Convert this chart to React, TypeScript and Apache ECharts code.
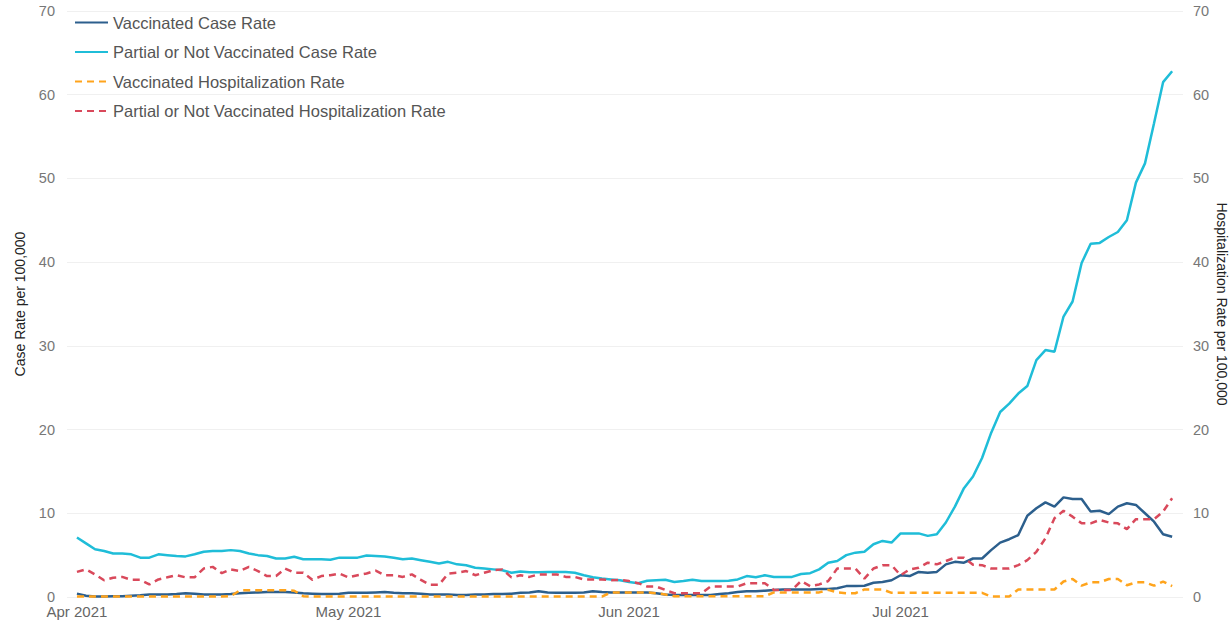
import React, { useEffect, useRef } from "react";
import * as echarts from "echarts";

// Daily values, Apr 1 2021 (index 0) .. Jul 31 2021 (index 121)
const tickDays = [0, 30, 61, 91];
const tickLabels = ["Apr 2021", "May 2021", "Jun 2021", "Jul 2021"];

const vaccinatedCase = [
  0.4, 0.15, 0.05, 0.05, 0.1, 0.1, 0.15, 0.2, 0.3, 0.3,
  0.3, 0.35, 0.45, 0.4, 0.3, 0.3, 0.3, 0.35, 0.45, 0.5,
  0.55, 0.6, 0.6, 0.6, 0.55, 0.45, 0.4, 0.35, 0.35, 0.4,
  0.5, 0.5, 0.5, 0.55, 0.6, 0.5, 0.45, 0.45, 0.4, 0.3,
  0.3, 0.3, 0.25, 0.25, 0.3, 0.3, 0.35, 0.35, 0.4, 0.5,
  0.55, 0.7, 0.55, 0.5, 0.5, 0.5, 0.55, 0.7, 0.6, 0.55,
  0.55, 0.55, 0.55, 0.55, 0.45, 0.3, 0.25, 0.25, 0.25, 0.25,
  0.25, 0.35, 0.45, 0.6, 0.7, 0.7, 0.75, 0.85, 0.9, 0.9,
  0.9, 0.9, 0.95, 0.95, 1.05, 1.3, 1.3, 1.35, 1.7, 1.8,
  2.0, 2.6, 2.5, 3.0, 2.9, 3.0, 3.9, 4.2, 4.1, 4.6,
  4.6, 5.6, 6.5, 6.9, 7.4, 9.7, 10.6, 11.3, 10.8, 11.9,
  11.7, 11.7, 10.2, 10.3, 9.9, 10.8, 11.2, 11.0, 10.0, 9.0,
  7.5, 7.2,
];

const unvaccinatedCase = [
  7.1, 6.4, 5.7, 5.5, 5.2, 5.2, 5.1, 4.7, 4.7, 5.1,
  5.0, 4.9, 4.85, 5.1, 5.4, 5.5, 5.5, 5.6, 5.5, 5.2,
  5.0, 4.9, 4.6, 4.6, 4.8, 4.5, 4.5, 4.5, 4.45, 4.7,
  4.7, 4.7, 4.95, 4.9, 4.85, 4.7, 4.5, 4.6, 4.4, 4.2,
  4.0, 4.2, 3.9, 3.8, 3.5, 3.4, 3.3, 3.2, 2.9, 3.05,
  2.95, 2.95, 3.0, 3.0, 3.0, 2.9, 2.6, 2.35, 2.2, 2.1,
  2.0, 1.8, 1.65, 1.95, 2.0, 2.05, 1.8, 1.9, 2.05, 1.9,
  1.9, 1.9, 1.95, 2.1, 2.5, 2.35, 2.6, 2.4, 2.4, 2.4,
  2.75, 2.85, 3.3, 4.1, 4.3, 5.0, 5.3, 5.4, 6.3, 6.7,
  6.5, 7.6, 7.6, 7.6, 7.3, 7.5, 8.9, 10.8, 13.0, 14.4,
  16.6, 19.6, 22.1, 23.1, 24.3, 25.2, 28.3, 29.5, 29.3, 33.5,
  35.3, 39.9, 42.2, 42.3, 43.0, 43.6, 45.0, 49.5, 51.8, 56.6,
  61.5, 62.8,
];

const vaccinatedHosp = [
  0.05, 0.05, 0.05, 0.05, 0.05, 0.05, 0.05, 0.05, 0.05, 0.05,
  0.05, 0.05, 0.05, 0.05, 0.05, 0.05, 0.05, 0.1, 0.8, 0.8,
  0.8, 0.8, 0.8, 0.8, 0.75, 0.1, 0.05, 0.05, 0.05, 0.05,
  0.05, 0.05, 0.05, 0.05, 0.05, 0.05, 0.05, 0.05, 0.05, 0.05,
  0.05, 0.05, 0.05, 0.05, 0.05, 0.05, 0.05, 0.05, 0.05, 0.05,
  0.05, 0.05, 0.05, 0.05, 0.05, 0.05, 0.05, 0.05, 0.05, 0.55,
  0.55, 0.55, 0.55, 0.55, 0.45, 0.3, 0.1, 0.1, 0.1, 0.1,
  0.1, 0.1, 0.1, 0.1, 0.1, 0.1, 0.1, 0.55, 0.55, 0.55,
  0.55, 0.55, 0.55, 0.85, 0.55, 0.45, 0.45, 0.9, 0.9, 0.9,
  0.5, 0.5, 0.5, 0.5, 0.5, 0.5, 0.5, 0.5, 0.5, 0.5,
  0.5, 0.05, 0.05, 0.05, 0.9, 0.9, 0.9, 0.9, 0.9, 1.85,
  2.15, 1.35, 1.75, 1.75, 2.15, 2.15, 1.4, 1.75, 1.75, 1.35,
  1.85, 1.3,
];

const unvaccinatedHosp = [
  3.0, 3.3, 2.7, 2.0, 2.3, 2.4, 2.05, 2.05, 1.5, 2.1,
  2.35, 2.6, 2.35, 2.35, 3.4, 3.6, 2.85, 3.3, 3.1, 3.6,
  3.1, 2.5, 2.5, 3.4, 2.9, 2.9, 2.05, 2.5, 2.6, 2.8,
  2.35, 2.6, 2.8, 3.15, 2.6, 2.6, 2.4, 2.7, 2.05, 1.45,
  1.45, 2.8, 2.9, 3.1, 2.6, 2.9, 3.2, 3.3, 2.35, 2.6,
  2.4, 2.7, 2.7, 2.7, 2.4, 2.4, 2.1, 2.1, 2.1, 2.0,
  2.05, 1.9, 1.65, 1.25, 1.25, 0.85, 0.45, 0.45, 0.45, 0.45,
  1.25, 1.25, 1.25, 1.25, 1.65, 1.65, 1.65, 0.85, 0.85, 0.85,
  1.9, 1.3, 1.5, 1.9, 3.4, 3.4, 3.4, 2.2, 3.4, 3.8,
  3.8, 2.6, 3.3, 3.5, 4.1, 3.9, 4.3, 4.7, 4.7, 3.85,
  3.8, 3.4, 3.4, 3.4, 3.8, 4.4, 5.4, 7.0, 9.4, 10.3,
  9.6, 8.8, 8.8, 9.2, 8.9, 8.8, 8.1, 9.3, 9.3, 9.3,
  10.2, 11.8,
];

const seriesNames = [
  "Vaccinated Case Rate",
  "Partial or Not Vaccinated Case Rate",
  "Vaccinated Hospitalization Rate",
  "Partial or Not Vaccinated Hospitalization Rate",
];

const FONT = "'Liberation Sans', Arial, sans-serif";

const toPairs = (arr: number[]) => arr.map((v, i) => [i, v]);

export default function App() {
  const ref = useRef<HTMLDivElement>(null);

  useEffect(() => {
    document.body.style.margin = "0";
    if (!ref.current) return;
    const chart = echarts.init(ref.current, undefined, { renderer: "svg" });

    const lineSeries = (
      name: string,
      data: number[],
      color: string,
      yAxisIndex: number,
      dashed: boolean
    ) => ({
      name,
      type: "line",
      yAxisIndex,
      data: toPairs(data),
      showSymbol: false,
      symbol: "none",
      smooth: false,
      lineStyle: {
        color,
        width: 2.5,
        type: dashed ? [7, 5] : "solid",
      },
      itemStyle: { color },
    });

    chart.setOption({
      animation: false,
      textStyle: { fontFamily: FONT },
      grid: {
        left: 67,
        right: 49,
        top: 11,
        bottom: 25,
        containLabel: false,
        outerBoundsMode: "none",
      },
      legend: {
        orient: "vertical",
        left: 69,
        top: 9,
        itemWidth: 33,
        itemHeight: 14,
        itemGap: 12.5,
        itemStyle: { opacity: 0 },
        textStyle: { fontSize: 16.5, color: "#555", fontFamily: FONT },
        data: seriesNames,
      },
      xAxis: {
        type: "value",
        min: -1.1,
        max: 122.2,
        axisLine: { show: false },
        axisTick: { show: false },
        splitLine: { show: false },
        axisLabel: {
          customValues: tickDays,
          formatter: (v: number) => {
            const idx = tickDays.indexOf(Math.round(v));
            return idx >= 0 ? tickLabels[idx] : "";
          },
          color: "#666",
          fontSize: 15,
          margin: 7,
          fontFamily: FONT,
        },
      },
      yAxis: [
        {
          type: "value",
          min: 0,
          max: 70,
          interval: 10,
          name: "Case Rate per 100,000",
          nameLocation: "middle",
          nameRotate: 90,
          nameGap: 40,
          nameTextStyle: { color: "#222", fontSize: 14, fontFamily: FONT },
          axisLine: { show: false },
          axisTick: { show: false },
          axisLabel: { color: "#777", fontSize: 14.5, margin: 12, fontFamily: FONT },
          splitLine: { lineStyle: { color: "#f0f0f0", width: 1 } },
        },
        {
          type: "value",
          min: 0,
          max: 70,
          interval: 10,
          position: "right",
          name: "Hospitalization Rate per 100,000",
          nameLocation: "middle",
          nameRotate: -90,
          nameGap: 32,
          nameMoveOverlap: false,
          nameTextStyle: { color: "#222", fontSize: 14, fontFamily: FONT },
          axisLine: { show: false },
          axisTick: { show: false },
          axisLabel: { color: "#777", fontSize: 14.5, margin: 10, fontFamily: FONT },
          splitLine: { show: false },
        },
      ],
      series: [
        lineSeries(seriesNames[0], vaccinatedCase, "#2c5f8d", 0, false),
        lineSeries(seriesNames[1], unvaccinatedCase, "#1fbdd8", 0, false),
        lineSeries(seriesNames[2], vaccinatedHosp, "#ffa41c", 1, true),
        lineSeries(seriesNames[3], unvaccinatedHosp, "#d9495b", 1, true),
      ],
    });

    return () => chart.dispose();
  }, []);

  return <div ref={ref} style={{ width: 1232, height: 622 }} />;
}
